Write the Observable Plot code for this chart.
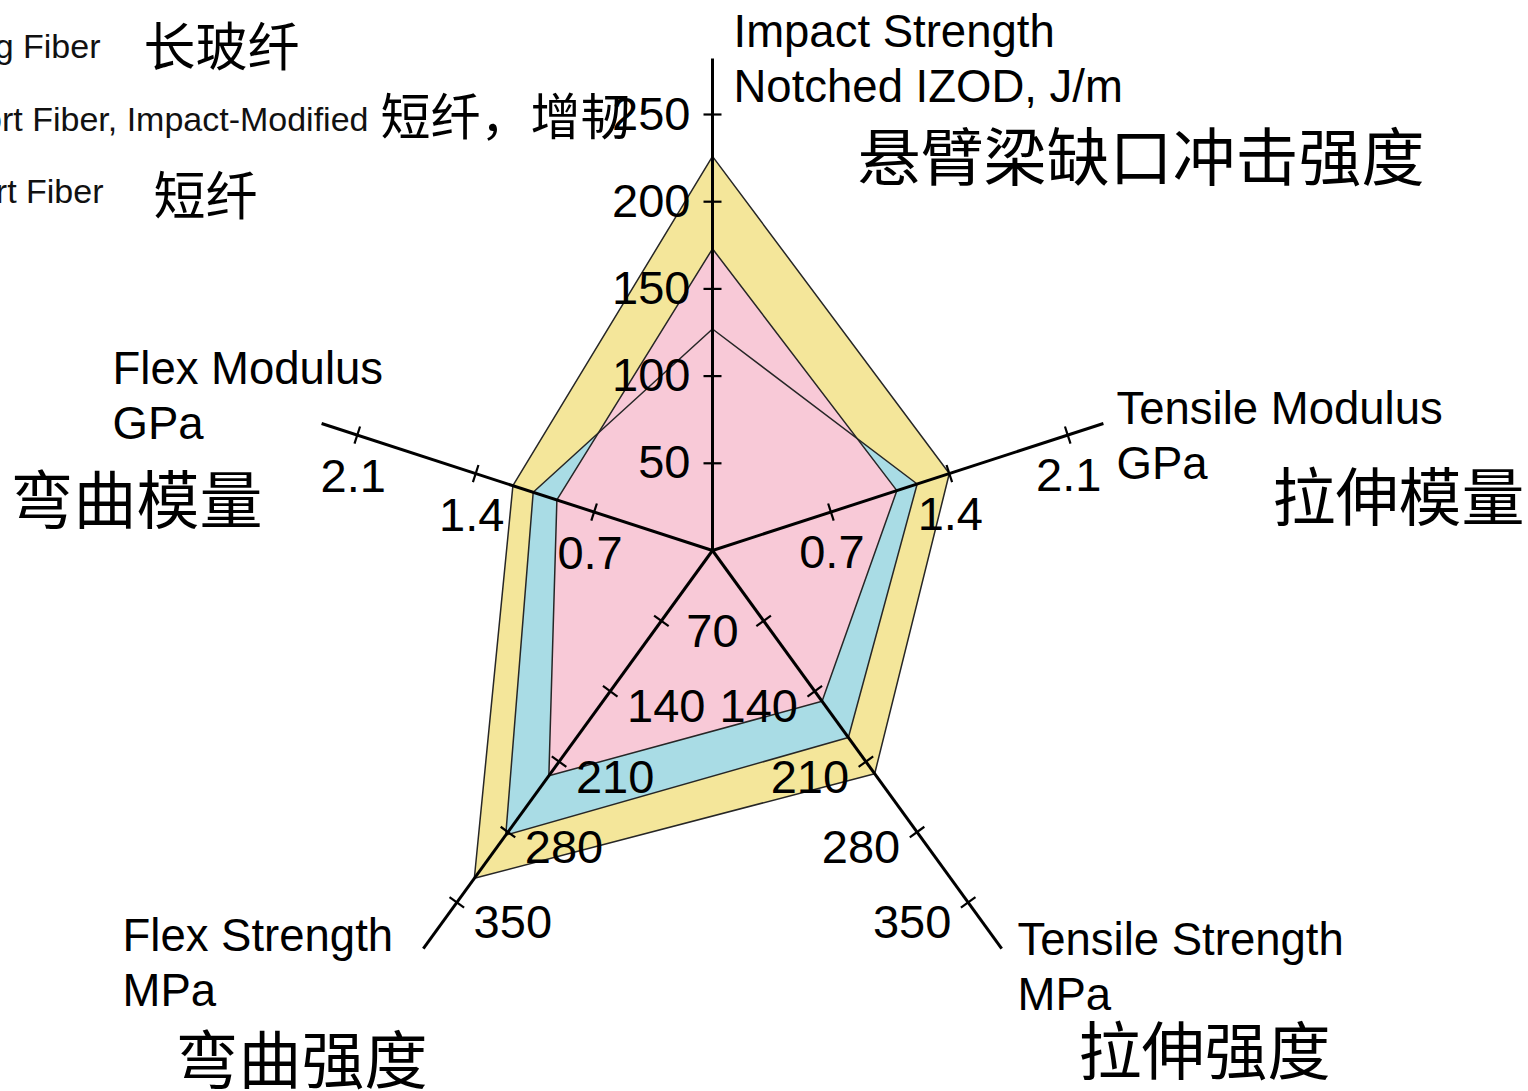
<!DOCTYPE html>
<html><head><meta charset="utf-8">
<script src="https://cdn.jsdelivr.net/npm/d3@7"></script>
<script src="https://cdn.jsdelivr.net/npm/@observablehq/plot@0.6"></script>
<style>html,body{margin:0;padding:0;background:#fff;overflow:hidden}</style>
</head><body><div id="chart"></div>
<script>
// ---------- data ----------
const axisNames = ["Impact Strength", "Tensile Modulus", "Tensile Strength", "Flex Strength", "Flex Modulus"];
const axisTitles = ["Impact Strength\nNotched IZOD, J/m", "Tensile Modulus\nGPa", "Tensile Strength\nMPa", "Flex Strength\nMPa", "Flex Modulus\nGPa"];
const axisTitlesZh = ["悬臂梁缺口冲击强度", "拉伸模量", "拉伸强度", "弯曲强度", "弯曲模量"];
const impactTicks = [50, 100, 150, 200, 250];
const modulusTicks = [0.7, 1.4, 2.1];
const strengthTicks = [70, 140, 210, 280, 350];
const seriesNames = ["Long Fiber", "Short Fiber, Impact-Modified", "Short Fiber"];
const seriesNamesZh = ["长玻纤", "短纤，增韧", "短纤"];
// values in axis order: Impact (J/m), Tensile Modulus (GPa), Tensile Strength (MPa), Flex Strength (MPa), Flex Modulus (GPa)
const longFiber = [226, 1.40, 222, 326, 1.18];
const shortFiberImpactModified = [173, 1.09, 150, 224, 0.92];
const shortFiber = [127, 1.21, 186, 283, 1.06];

// ---------- layout / style ----------
const W = 1528, H = 1091;
const cx = 712, cy = 550;
const axisTicks = [impactTicks, modulusTicks, strengthTicks, strengthTicks, modulusTicks];
const stepValue = [50, 0.7, 70, 70, 0.7];
const stepPx = [87.2, 124.5, 87, 87, 124.5];
const axisLen = [492, 411, 492, 492, 411];
const radius = axisNames.map((_, i) => d3.scaleLinear([0, stepValue[i]], [0, stepPx[i]]));
const angle = axisNames.map((_, i) => (90 - 72 * i) * Math.PI / 180);
function pos(i, r) { return [cx + r * Math.cos(angle[i]), cy - r * Math.sin(angle[i])]; }

const fillColors = {"Long Fiber": "#f4e69a", "Short Fiber": "#a9dce5", "Short Fiber, Impact-Modified": "#f8c9d7"};
const drawOrder = [["Long Fiber", longFiber], ["Short Fiber", shortFiber], ["Short Fiber, Impact-Modified", shortFiberImpactModified]];

const polys = drawOrder.map(([name, vals]) => vals.map((v, i) => {
  const [x, y] = pos(i, radius[i](v));
  return {series: name, axis: axisNames[i], value: v, x, y};
}));

const axisLines = axisNames.map((a, i) => {
  const [x2, y2] = pos(i, axisLen[i]);
  return {axis: a, x1: cx, y1: cy, x2, y2};
});

const tickData = [];
axisNames.forEach((a, i) => {
  axisTicks[i].forEach(t => {
    const [x, y] = pos(i, radius[i](t));
    const px = Math.sin(angle[i]), py = Math.cos(angle[i]);
    tickData.push({axis: i, value: t, x, y, x1: x - 9 * px, y1: y - 9 * py, x2: x + 9 * px, y2: y + 9 * py});
  });
});
// tick-label offsets per axis
const labelOff = [[-22, 0, "end"], [1, 41, "middle"], [-56, 16, "middle"], [56, 16, "middle"], [-4, 42, "middle"]];
const tickLabels = [];
tickData.forEach(d => {
  if (d.axis === 2 && d.value === 70) return; // shared "70" label drawn once, between both axes
  let x = d.x + labelOff[d.axis][0], y = d.y + labelOff[d.axis][1];
  if (d.axis === 3 && d.value === 70) {
    const twin = tickData.find(e => e.axis === 2 && e.value === 70);
    x = (d.x + twin.x) / 2; y = d.y + 11;
  }
  if (d.value === 350) y += 5;
  tickLabels.push({text: String(d.value), x, y, anchor: labelOff[d.axis][2]});
});

const titlePos = [[733, 101], [1116, 478], [1017, 1009], [122, 1005], [112, 438]];
const titles = axisTitles.map((t, i) => ({text: t, x: titlePos[i][0], y: titlePos[i][1]}));
const zhPos = [[857, 159], [1272, 499], [1078, 1053], [175, 1062], [10, 502]];
const titlesZh = axisTitlesZh.map((t, i) => ({text: t, x: zhPos[i][0], y: zhPos[i][1]}));

const legendPos = [[100, 47], [368, 120], [103, 192]];
const legend = seriesNames.map((t, i) => ({text: t, x: legendPos[i][0], y: legendPos[i][1]}));
const legendZhPos = [[143, 49, 52], [380, 118, 50], [153, 198, 52]];
const legendZh = seriesNamesZh.map((t, i) => ({text: t, x: legendZhPos[i][0], y: legendZhPos[i][1], size: legendZhPos[i][2]}));

const EN = "'Liberation Sans', Arial, Helvetica, sans-serif";
const ZH = "'Noto Sans CJK SC', sans-serif";

const marks = [];
polys.forEach(p => marks.push(Plot.line(p, {x: "x", y: "y", fill: fillColors[p[0].series], stroke: "none", curve: "linear-closed"})));
polys.forEach(p => marks.push(Plot.line(p, {x: "x", y: "y", stroke: "#262626", strokeWidth: 1.5, curve: "linear-closed"})));
marks.push(Plot.link(axisLines, {x1: "x1", y1: "y1", x2: "x2", y2: "y2", stroke: "black", strokeWidth: 3}));
marks.push(Plot.link(tickData, {x1: "x1", y1: "y1", x2: "x2", y2: "y2", stroke: "black", strokeWidth: 2.2}));
["end", "middle"].forEach(anchor => marks.push(Plot.text(tickLabels.filter(d => d.anchor === anchor), {
  x: "x", y: "y", text: "text", textAnchor: anchor, lineAnchor: "middle", fontSize: 47, fill: "black", fontFamily: EN
})));
marks.push(Plot.text(titles, {x: "x", y: "y", text: "text", textAnchor: "start", lineAnchor: "bottom", lineHeight: 1.2, fontSize: 45.5, fill: "black", fontFamily: EN}));
marks.push(Plot.text(titlesZh, {x: "x", y: "y", text: "text", textAnchor: "start", lineAnchor: "middle", fontSize: 63, fill: "black", fontFamily: ZH}));
marks.push(Plot.text(legend, {x: "x", y: "y", text: "text", textAnchor: "end", lineAnchor: "middle", fontSize: 34, fill: "#111", fontFamily: EN}));
legendZh.forEach(d => marks.push(Plot.text([d], {x: "x", y: "y", text: "text", textAnchor: "start", lineAnchor: "middle", fontSize: d.size, fill: "black", fontFamily: ZH})));

const chart = Plot.plot({
  width: W, height: H, margin: 0,
  x: {domain: [0, W], range: [0, W], axis: null},
  y: {domain: [0, H], range: [0, H], axis: null},
  style: {fontFamily: EN, background: "white"},
  marks
});
document.getElementById("chart").appendChild(chart);
</script>
</body></html>
